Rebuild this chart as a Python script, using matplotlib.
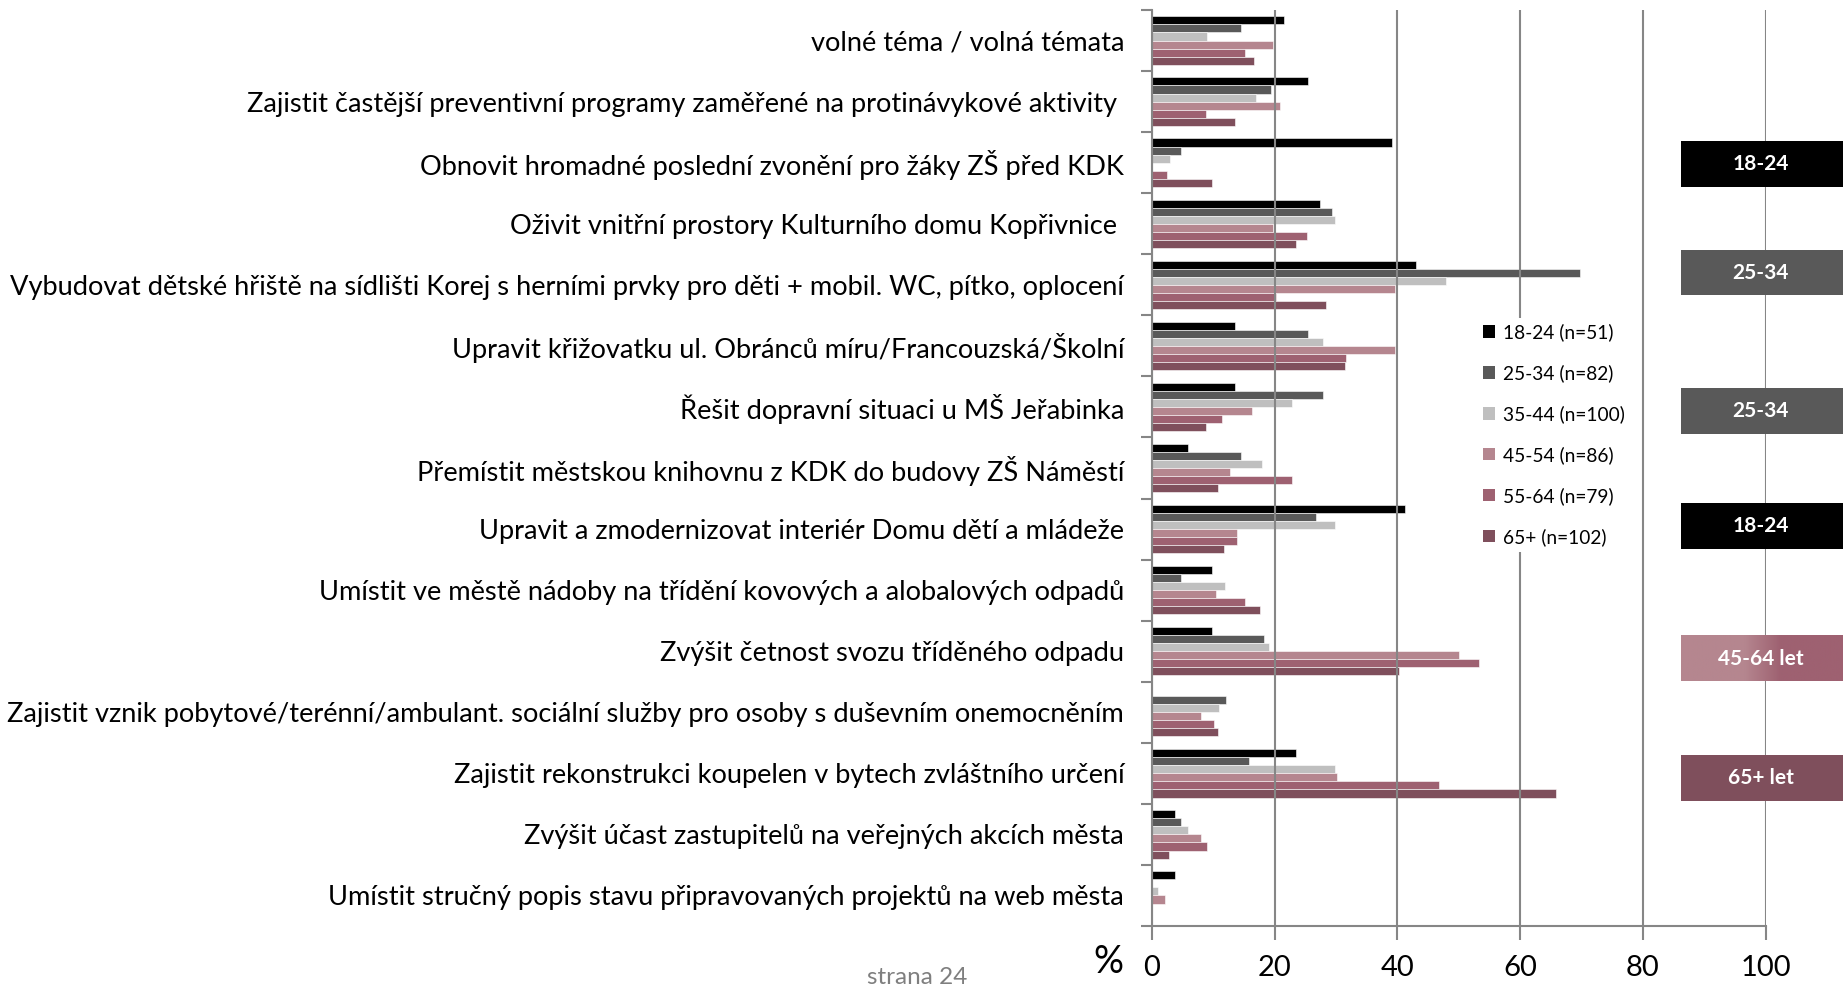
import matplotlib.pyplot as plt
import numpy as np
from matplotlib.patches import Patch, Rectangle
from matplotlib.colors import LinearSegmentedColormap

#--------------------------------------------------------------------
# DATA
#--------------------------------------------------------------------
categories = [
    "volné téma / volná témata",
    "Zajistit častější preventivní programy zaměřené na protinávykové aktivity ",
    "Obnovit hromadné poslední zvonění pro žáky ZŠ před KDK",
    "Oživit vnitřní prostory Kulturního domu Kopřivnice ",
    "Vybudovat dětské hřiště na sídlišti Korej s herními prvky pro děti + mobil. WC, pítko, oplocení",
    "Upravit křižovatku ul. Obránců míru/Francouzská/Školní",
    "Řešit dopravní situaci u MŠ Jeřabinka",
    "Přemístit městskou knihovnu z KDK do budovy ZŠ Náměstí",
    "Upravit a zmodernizovat interiér Domu dětí a mládeže",
    "Umístit ve městě nádoby na třídění kovových a alobalových odpadů",
    "Zvýšit četnost svozu tříděného odpadu",
    "Zajistit vznik pobytové/terénní/ambulant. sociální služby pro osoby s duševním onemocněním",
    "Zajistit rekonstrukci koupelen v bytech zvláštního určení",
    "Zvýšit účast zastupitelů na veřejných akcích města",
    "Umístit stručný popis stavu připravovaných projektů na web města",
]
series_labels = ["18-24 (n=51)", "25-34 (n=82)", "35-44 (n=100)",
                 "45-54 (n=86)", "55-64 (n=79)", "65+ (n=102)"]

age_18_24 = [21.5, 25.5, 39.2, 27.4, 43.1, 13.6, 13.6, 5.8, 41.3, 9.7, 9.7, 0.0, 23.4, 3.8, 3.8]
age_25_34 = [14.5, 19.4, 4.8, 29.3, 69.7, 25.5, 27.9, 14.5, 26.7, 4.8, 18.2, 12.1, 15.8, 4.8, 0.0]
age_35_44 = [8.9, 16.9, 2.9, 29.9, 48.0, 27.9, 22.9, 18.0, 29.9, 11.9, 19.0, 10.9, 29.9, 5.9, 0.9]
age_45_54 = [19.7, 20.9, 0.0, 19.7, 39.6, 39.6, 16.3, 12.7, 13.9, 10.4, 50.1, 8.0, 30.2, 8.0, 2.2]
age_55_64 = [15.2, 8.8, 2.4, 25.3, 20.2, 31.6, 11.4, 22.8, 13.9, 15.2, 53.3, 10.1, 46.8, 8.9, 0.0]
age_65 = [16.6, 13.6, 9.7, 23.5, 28.4, 31.4, 8.75, 10.7, 11.7, 17.6, 40.2, 10.7, 65.9, 2.8, 0.0]
series = [age_18_24, age_25_34, age_35_44, age_45_54, age_55_64, age_65]

colors = ["#000000", "#595959", "#BFBFBF", "#B5868F", "#9E6171", "#7F4F5C"]

# side highlight boxes: (row index, text, colour key)
box_rows = [2, 4, 6, 8, 10, 12]
box_texts = ["18-24", "25-34", "25-34", "18-24", "45-64 let", "65+ let"]
box_colors = ["#000000", "#595959", "#595959", "#000000", "gradient", "#7F4F5C"]
box_offsets = [0.02, -0.2, 0.07, -0.05, 0.12, 0.08]

#--------------------------------------------------------------------
# PLOT
#--------------------------------------------------------------------
plt.rcParams['font.family'] = ['Lato', 'DejaVu Sans']
GRID = "#868686"

fig = plt.figure(figsize=(18.43, 9.84), dpi=100)
ax = fig.add_axes([1152/1843, 1 - 926/984, (1765.5 - 1152)/1843, (926 - 10)/984])

n_cat = len(categories)
y = np.arange(n_cat)
h = 0.132
for k, vals in enumerate(series):
    ax.barh(y + (k - 2.5) * h, vals, height=h, color=colors[k],
            edgecolor="white", linewidth=0.4, label=series_labels[k], zorder=1)

ax.set_xlim(0, 100)
ax.set_ylim(n_cat - 0.5, -0.5)
ax.set_xticks(np.arange(0, 101, 20))
ax.tick_params(axis="x", direction="out", length=10, width=1.5, color=GRID,
               labelsize=21, pad=11)
ax.set_yticks(y, categories)
ax.set_yticks(np.arange(-0.5, n_cat, 1), minor=True)
ax.tick_params(axis="y", which="major", length=0, labelsize=19.6, pad=20)
ax.tick_params(axis="y", which="minor", direction="out", length=8, width=1.5, color=GRID)
ax.grid(axis="x", color=GRID, linewidth=1.5)
ax.set_axisbelow(False)
for s in ["top", "right"]:
    ax.spines[s].set_visible(False)
for s in ["left", "bottom"]:
    ax.spines[s].set_color(GRID)
    ax.spines[s].set_linewidth(1.5)

handles = [Patch(facecolor=c) for c in colors]
leg = ax.legend(handles, series_labels, loc="upper left",
                bbox_to_anchor=(1468/1843, 1 - 308/984), bbox_transform=fig.transFigure,
                fontsize=13.8, frameon=True, facecolor="white", edgecolor="none",
                framealpha=1, handlelength=0.62, handleheight=0.62,
                handletextpad=0.4, labelspacing=1.2, borderpad=0.3)
leg.set_zorder(5)

# highlight boxes on the right
gcmap = LinearSegmentedColormap.from_list(
    "g", [(0, colors[3]), (0.39, colors[3]), (0.61, colors[4]), (1, colors[4])])
bx0, bx1 = 86.3, 112.8
bh = 0.75
for r, txt, c, off in zip(box_rows, box_texts, box_colors, box_offsets):
    yc = r + off
    if c == "gradient":
        grad = np.linspace(0, 1, 256).reshape(1, -1)
        ax.imshow(grad, cmap=gcmap, aspect="auto",
                  extent=(bx0, bx1, yc + bh / 2, yc - bh / 2),
                  clip_on=False, zorder=6)
    else:
        ax.add_patch(Rectangle((bx0, yc - bh / 2), bx1 - bx0, bh, facecolor=c,
                               edgecolor="none", clip_on=False, zorder=6))
    ax.text((bx0 + bx1) / 2 - 0.3, yc, txt, color="white", fontsize=15,
            fontweight="bold", ha="center", va="center", zorder=7, clip_on=False)
ax.set_xlim(0, 100)
ax.set_ylim(n_cat - 0.5, -0.5)

fig.text(1108/1843, 1 - 962/984, "%", fontsize=27, ha="center", va="center")
fig.text(917/1843, 1 - 967/984, "strana 24", fontsize=17.5, color="#7F7F7F",
         ha="center", va="top")

fig.savefig("out.png", dpi=100)
